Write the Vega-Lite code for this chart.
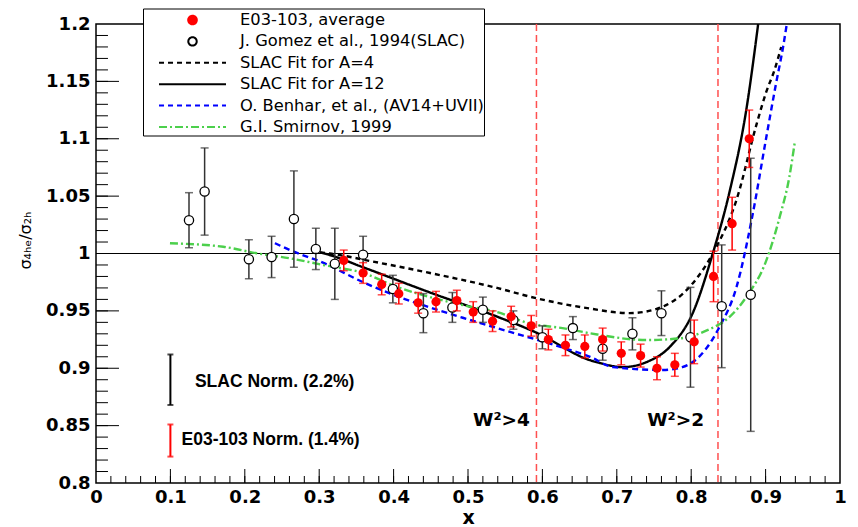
{
  "$schema": "https://vega.github.io/schema/vega-lite/v6.json",
  "width": 744,
  "height": 459,
  "autosize": "none",
  "padding": {"left": 96, "top": 24, "right": 18, "bottom": 44},
  "background": "white",
  "config": {
    "view": {"stroke": "black", "strokeWidth": 1.5},
    "legend": {"symbolStrokeWidth": 2}
  },
  "datasets": {
    "xMinor": [{"x":0.02},{"x":0.04},{"x":0.06},{"x":0.08},{"x":0.1},{"x":0.12},{"x":0.14},{"x":0.16},{"x":0.18},{"x":0.2},{"x":0.22},{"x":0.24},{"x":0.26},{"x":0.28},{"x":0.3},{"x":0.32},{"x":0.34},{"x":0.36},{"x":0.38},{"x":0.4},{"x":0.42},{"x":0.44},{"x":0.46},{"x":0.48},{"x":0.5},{"x":0.52},{"x":0.54},{"x":0.56},{"x":0.58},{"x":0.6},{"x":0.62},{"x":0.64},{"x":0.66},{"x":0.68},{"x":0.7},{"x":0.72},{"x":0.74},{"x":0.76},{"x":0.78},{"x":0.8},{"x":0.82},{"x":0.84},{"x":0.86},{"x":0.88},{"x":0.9},{"x":0.92},{"x":0.94},{"x":0.96},{"x":0.98}],
    "xMajor": [{"x":0.1},{"x":0.2},{"x":0.3},{"x":0.4},{"x":0.5},{"x":0.6},{"x":0.7},{"x":0.8},{"x":0.9}],
    "yMinor": [{"y":0.81},{"y":0.82},{"y":0.83},{"y":0.84},{"y":0.85},{"y":0.86},{"y":0.87},{"y":0.88},{"y":0.89},{"y":0.9},{"y":0.91},{"y":0.92},{"y":0.93},{"y":0.94},{"y":0.95},{"y":0.96},{"y":0.97},{"y":0.98},{"y":0.99},{"y":1.0},{"y":1.01},{"y":1.02},{"y":1.03},{"y":1.04},{"y":1.05},{"y":1.06},{"y":1.07},{"y":1.08},{"y":1.09},{"y":1.1},{"y":1.11},{"y":1.12},{"y":1.13},{"y":1.14},{"y":1.15},{"y":1.16},{"y":1.17},{"y":1.18},{"y":1.19}],
    "yMajor": [{"y":0.85},{"y":0.9},{"y":0.95},{"y":1.0},{"y":1.05},{"y":1.1},{"y":1.15}],
    "e03": [
      {"x": 0.333, "y": 0.994, "err": 0.009},
      {"x": 0.359, "y": 0.983, "err": 0.009},
      {"x": 0.384, "y": 0.973, "err": 0.009},
      {"x": 0.407, "y": 0.965, "err": 0.009},
      {"x": 0.433, "y": 0.957, "err": 0.009},
      {"x": 0.457, "y": 0.958, "err": 0.009},
      {"x": 0.485, "y": 0.959, "err": 0.009},
      {"x": 0.507, "y": 0.949, "err": 0.009},
      {"x": 0.533, "y": 0.941, "err": 0.009},
      {"x": 0.558, "y": 0.945, "err": 0.009},
      {"x": 0.585, "y": 0.937, "err": 0.009},
      {"x": 0.608, "y": 0.925, "err": 0.009},
      {"x": 0.631, "y": 0.920, "err": 0.009},
      {"x": 0.657, "y": 0.919, "err": 0.010},
      {"x": 0.681, "y": 0.925, "err": 0.010},
      {"x": 0.706, "y": 0.913, "err": 0.010},
      {"x": 0.732, "y": 0.911, "err": 0.010},
      {"x": 0.754, "y": 0.900, "err": 0.010},
      {"x": 0.778, "y": 0.903, "err": 0.010},
      {"x": 0.804, "y": 0.923, "err": 0.019},
      {"x": 0.830, "y": 0.980, "err": 0.022},
      {"x": 0.855, "y": 1.026, "err": 0.023},
      {"x": 0.878, "y": 1.100, "err": 0.025}
    ],
    "slac": [
      {"x": 0.125, "y": 1.029, "err": 0.024},
      {"x": 0.146, "y": 1.054, "err": 0.038},
      {"x": 0.2055, "y": 0.995, "err": 0.017},
      {"x": 0.236, "y": 0.997, "err": 0.018},
      {"x": 0.266, "y": 1.030, "err": 0.042},
      {"x": 0.2955, "y": 1.004, "err": 0.018},
      {"x": 0.321, "y": 0.991, "err": 0.031},
      {"x": 0.359, "y": 0.999, "err": 0.016},
      {"x": 0.399, "y": 0.969, "err": 0.012},
      {"x": 0.440, "y": 0.948, "err": 0.017},
      {"x": 0.479, "y": 0.953, "err": 0.013},
      {"x": 0.520, "y": 0.951, "err": 0.011},
      {"x": 0.561, "y": 0.942, "err": 0.008},
      {"x": 0.600, "y": 0.927, "err": 0.010},
      {"x": 0.641, "y": 0.935, "err": 0.010},
      {"x": 0.681, "y": 0.917, "err": 0.010},
      {"x": 0.721, "y": 0.930, "err": 0.014},
      {"x": 0.760, "y": 0.948, "err": 0.0195},
      {"x": 0.799, "y": 0.927, "err": 0.0435},
      {"x": 0.841, "y": 0.954, "err": 0.0535},
      {"x": 0.880, "y": 0.964, "err": 0.119}
    ],
    "curves": [
      {"s": "SLAC Fit for A=4", "x": 0.301, "y": 1.001},
      {"s": "SLAC Fit for A=4", "x": 0.314, "y": 1.000},
      {"s": "SLAC Fit for A=4", "x": 0.372, "y": 0.993},
      {"s": "SLAC Fit for A=4", "x": 0.449, "y": 0.983},
      {"s": "SLAC Fit for A=4", "x": 0.539, "y": 0.970},
      {"s": "SLAC Fit for A=4", "x": 0.592, "y": 0.961},
      {"s": "SLAC Fit for A=4", "x": 0.664, "y": 0.952},
      {"s": "SLAC Fit for A=4", "x": 0.717, "y": 0.948},
      {"s": "SLAC Fit for A=4", "x": 0.757, "y": 0.9525},
      {"s": "SLAC Fit for A=4", "x": 0.798, "y": 0.971},
      {"s": "SLAC Fit for A=4", "x": 0.829, "y": 1.000},
      {"s": "SLAC Fit for A=4", "x": 0.861, "y": 1.047},
      {"s": "SLAC Fit for A=4", "x": 0.888, "y": 1.113},
      {"s": "SLAC Fit for A=4", "x": 0.901, "y": 1.141},
      {"s": "SLAC Fit for A=4", "x": 0.912, "y": 1.160},
      {"s": "SLAC Fit for A=4", "x": 0.921, "y": 1.180},
      {"s": "SLAC Fit for A=12", "x": 0.301, "y": 1.001},
      {"s": "SLAC Fit for A=12", "x": 0.314, "y": 0.9987},
      {"s": "SLAC Fit for A=12", "x": 0.359, "y": 0.988},
      {"s": "SLAC Fit for A=12", "x": 0.449, "y": 0.966},
      {"s": "SLAC Fit for A=12", "x": 0.539, "y": 0.945},
      {"s": "SLAC Fit for A=12", "x": 0.592, "y": 0.931},
      {"s": "SLAC Fit for A=12", "x": 0.664, "y": 0.907},
      {"s": "SLAC Fit for A=12", "x": 0.677, "y": 0.9046},
      {"s": "SLAC Fit for A=12", "x": 0.708, "y": 0.901},
      {"s": "SLAC Fit for A=12", "x": 0.740, "y": 0.9054},
      {"s": "SLAC Fit for A=12", "x": 0.771, "y": 0.9185},
      {"s": "SLAC Fit for A=12", "x": 0.802, "y": 0.948},
      {"s": "SLAC Fit for A=12", "x": 0.829, "y": 1.000},
      {"s": "SLAC Fit for A=12", "x": 0.852, "y": 1.055},
      {"s": "SLAC Fit for A=12", "x": 0.874, "y": 1.125},
      {"s": "SLAC Fit for A=12", "x": 0.890, "y": 1.200},
      {"s": "O. Benhar, et al., (AV14+UVII)", "x": 0.2405, "y": 1.009},
      {"s": "O. Benhar, et al., (AV14+UVII)", "x": 0.2606, "y": 1.003},
      {"s": "O. Benhar, et al., (AV14+UVII)", "x": 0.305, "y": 0.992},
      {"s": "O. Benhar, et al., (AV14+UVII)", "x": 0.359, "y": 0.975},
      {"s": "O. Benhar, et al., (AV14+UVII)", "x": 0.408, "y": 0.962},
      {"s": "O. Benhar, et al., (AV14+UVII)", "x": 0.449, "y": 0.953},
      {"s": "O. Benhar, et al., (AV14+UVII)", "x": 0.493, "y": 0.944},
      {"s": "O. Benhar, et al., (AV14+UVII)", "x": 0.539, "y": 0.935},
      {"s": "O. Benhar, et al., (AV14+UVII)", "x": 0.627, "y": 0.918},
      {"s": "O. Benhar, et al., (AV14+UVII)", "x": 0.664, "y": 0.910},
      {"s": "O. Benhar, et al., (AV14+UVII)", "x": 0.695, "y": 0.901},
      {"s": "O. Benhar, et al., (AV14+UVII)", "x": 0.762, "y": 0.8985},
      {"s": "O. Benhar, et al., (AV14+UVII)", "x": 0.788, "y": 0.901},
      {"s": "O. Benhar, et al., (AV14+UVII)", "x": 0.815, "y": 0.913},
      {"s": "O. Benhar, et al., (AV14+UVII)", "x": 0.838, "y": 0.936},
      {"s": "O. Benhar, et al., (AV14+UVII)", "x": 0.861, "y": 0.971},
      {"s": "O. Benhar, et al., (AV14+UVII)", "x": 0.882, "y": 1.032},
      {"s": "O. Benhar, et al., (AV14+UVII)", "x": 0.901, "y": 1.1015},
      {"s": "O. Benhar, et al., (AV14+UVII)", "x": 0.914, "y": 1.148},
      {"s": "O. Benhar, et al., (AV14+UVII)", "x": 0.9235, "y": 1.180},
      {"s": "O. Benhar, et al., (AV14+UVII)", "x": 0.9285, "y": 1.200},
      {"s": "G.I. Smirnov, 1999", "x": 0.0994, "y": 1.0089},
      {"s": "G.I. Smirnov, 1999", "x": 0.171, "y": 1.0059},
      {"s": "G.I. Smirnov, 1999", "x": 0.216, "y": 1.0002},
      {"s": "G.I. Smirnov, 1999", "x": 0.2606, "y": 0.9958},
      {"s": "G.I. Smirnov, 1999", "x": 0.305, "y": 0.990},
      {"s": "G.I. Smirnov, 1999", "x": 0.359, "y": 0.983},
      {"s": "G.I. Smirnov, 1999", "x": 0.404, "y": 0.971},
      {"s": "G.I. Smirnov, 1999", "x": 0.449, "y": 0.962},
      {"s": "G.I. Smirnov, 1999", "x": 0.493, "y": 0.955},
      {"s": "G.I. Smirnov, 1999", "x": 0.539, "y": 0.949},
      {"s": "G.I. Smirnov, 1999", "x": 0.583, "y": 0.939},
      {"s": "G.I. Smirnov, 1999", "x": 0.627, "y": 0.935},
      {"s": "G.I. Smirnov, 1999", "x": 0.664, "y": 0.9305},
      {"s": "G.I. Smirnov, 1999", "x": 0.740, "y": 0.9246},
      {"s": "G.I. Smirnov, 1999", "x": 0.784, "y": 0.926},
      {"s": "G.I. Smirnov, 1999", "x": 0.821, "y": 0.933},
      {"s": "G.I. Smirnov, 1999", "x": 0.852, "y": 0.945},
      {"s": "G.I. Smirnov, 1999", "x": 0.874, "y": 0.962},
      {"s": "G.I. Smirnov, 1999", "x": 0.901, "y": 0.994},
      {"s": "G.I. Smirnov, 1999", "x": 0.919, "y": 1.032},
      {"s": "G.I. Smirnov, 1999", "x": 0.932, "y": 1.067},
      {"s": "G.I. Smirnov, 1999", "x": 0.939, "y": 1.096}
    ],
    "walls": [{"x": 0.592}, {"x": 0.836}],
    "unity": [{"y": 1.0}],
    "normSlac": [{"x": 0.1, "y": 0.890, "err": 0.022}],
    "normE03": [{"x": 0.1, "y": 0.837, "err": 0.014}],
    "normText": [
      {"x": 0.133, "y": 0.888, "t": "SLAC Norm. (2.2%)"},
      {"x": 0.115, "y": 0.8375, "t": "E03-103 Norm. (1.4%)"}
    ],
    "wText": [
      {"x": 0.545, "y": 0.855, "t": "W²>4"},
      {"x": 0.779, "y": 0.855, "t": "W²>2"}
    ]
  },
  "layer": [
    {
      "data": {"name": "xMinor"},
      "mark": {"type": "rule", "color": "black", "strokeWidth": 1},
      "encoding": {
        "x": {"field": "x", "type": "quantitative", "scale": {"domain": [0, 1], "nice": false, "zero": false},
          "axis": {"title": "x", "values": [0,0.1,0.2,0.3,0.4,0.5,0.6,0.7,0.8,0.9,1], "labelExpr": "'' + datum.value", "labelOverlap": false, "labelFlush": false, "labelBound": false, "ticks": false, "domain": false, "grid": false, "labelFont": "DejaVu Sans", "labelFontWeight": "bold", "labelFontSize": 18, "labelColor": "black", "labelPadding": 5, "titleFont": "DejaVu Sans", "titleFontWeight": "bold", "titleFontSize": 19, "titleColor": "black", "titlePadding": 2}},
        "y": {"datum": 0.8, "type": "quantitative", "scale": {"domain": [0.8, 1.2], "nice": false, "zero": false},
          "axis": {"title": "σ₄ₕₑ/σ₂ₕ", "values": [0.8,0.85,0.9,0.95,1,1.05,1.1,1.15,1.2], "labelExpr": "'' + datum.value", "labelOverlap": false, "labelFlush": false, "labelBound": false, "ticks": false, "domain": false, "grid": false, "labelFont": "DejaVu Sans", "labelFontWeight": "bold", "labelFontSize": 18, "labelColor": "black", "labelPadding": 6, "titleFont": "DejaVu Sans", "titleFontWeight": "normal", "titleFontSize": 16, "titleColor": "black", "titleX": -71, "titleY": 216, "titleBaseline": "middle", "titleAngle": -90}},
        "y2": {"datum": 0.8061}
      }
    },
    {
      "data": {"name": "xMajor"},
      "mark": {"type": "rule", "color": "black", "strokeWidth": 1},
      "encoding": {
        "x": {"field": "x", "type": "quantitative", "scale": {"domain": [0, 1], "nice": false, "zero": false},
          "axis": {"title": "x", "values": [0,0.1,0.2,0.3,0.4,0.5,0.6,0.7,0.8,0.9,1], "labelExpr": "'' + datum.value", "labelOverlap": false, "labelFlush": false, "labelBound": false, "ticks": false, "domain": false, "grid": false, "labelFont": "DejaVu Sans", "labelFontWeight": "bold", "labelFontSize": 18, "labelColor": "black", "labelPadding": 5, "titleFont": "DejaVu Sans", "titleFontWeight": "bold", "titleFontSize": 19, "titleColor": "black", "titlePadding": 2}},
        "y": {"datum": 0.8, "type": "quantitative", "scale": {"domain": [0.8, 1.2], "nice": false, "zero": false},
          "axis": {"title": "σ₄ₕₑ/σ₂ₕ", "values": [0.8,0.85,0.9,0.95,1,1.05,1.1,1.15,1.2], "labelExpr": "'' + datum.value", "labelOverlap": false, "labelFlush": false, "labelBound": false, "ticks": false, "domain": false, "grid": false, "labelFont": "DejaVu Sans", "labelFontWeight": "bold", "labelFontSize": 18, "labelColor": "black", "labelPadding": 6, "titleFont": "DejaVu Sans", "titleFontWeight": "normal", "titleFontSize": 16, "titleColor": "black", "titleX": -71, "titleY": 216, "titleBaseline": "middle", "titleAngle": -90}},
        "y2": {"datum": 0.8122}
      }
    },
    {
      "data": {"name": "yMinor"},
      "mark": {"type": "rule", "color": "black", "strokeWidth": 1},
      "encoding": {
        "y": {"field": "y", "type": "quantitative", "scale": {"domain": [0.8, 1.2], "nice": false, "zero": false},
          "axis": {"title": "σ₄ₕₑ/σ₂ₕ", "values": [0.8,0.85,0.9,0.95,1,1.05,1.1,1.15,1.2], "labelExpr": "'' + datum.value", "labelOverlap": false, "labelFlush": false, "labelBound": false, "ticks": false, "domain": false, "grid": false, "labelFont": "DejaVu Sans", "labelFontWeight": "bold", "labelFontSize": 18, "labelColor": "black", "labelPadding": 6, "titleFont": "DejaVu Sans", "titleFontWeight": "normal", "titleFontSize": 16, "titleColor": "black", "titleX": -71, "titleY": 216, "titleBaseline": "middle", "titleAngle": -90}},
        "x": {"datum": 0, "type": "quantitative", "scale": {"domain": [0, 1], "nice": false, "zero": false},
          "axis": {"title": "x", "values": [0,0.1,0.2,0.3,0.4,0.5,0.6,0.7,0.8,0.9,1], "labelExpr": "'' + datum.value", "labelOverlap": false, "labelFlush": false, "labelBound": false, "ticks": false, "domain": false, "grid": false, "labelFont": "DejaVu Sans", "labelFontWeight": "bold", "labelFontSize": 18, "labelColor": "black", "labelPadding": 5, "titleFont": "DejaVu Sans", "titleFontWeight": "bold", "titleFontSize": 19, "titleColor": "black", "titlePadding": 2}},
        "x2": {"datum": 0.0161}
      }
    },
    {
      "data": {"name": "yMajor"},
      "mark": {"type": "rule", "color": "black", "strokeWidth": 1},
      "encoding": {
        "y": {"field": "y", "type": "quantitative", "scale": {"domain": [0.8, 1.2], "nice": false, "zero": false},
          "axis": {"title": "σ₄ₕₑ/σ₂ₕ", "values": [0.8,0.85,0.9,0.95,1,1.05,1.1,1.15,1.2], "labelExpr": "'' + datum.value", "labelOverlap": false, "labelFlush": false, "labelBound": false, "ticks": false, "domain": false, "grid": false, "labelFont": "DejaVu Sans", "labelFontWeight": "bold", "labelFontSize": 18, "labelColor": "black", "labelPadding": 6, "titleFont": "DejaVu Sans", "titleFontWeight": "normal", "titleFontSize": 16, "titleColor": "black", "titleX": -71, "titleY": 216, "titleBaseline": "middle", "titleAngle": -90}},
        "x": {"datum": 0, "type": "quantitative", "scale": {"domain": [0, 1], "nice": false, "zero": false},
          "axis": {"title": "x", "values": [0,0.1,0.2,0.3,0.4,0.5,0.6,0.7,0.8,0.9,1], "labelExpr": "'' + datum.value", "labelOverlap": false, "labelFlush": false, "labelBound": false, "ticks": false, "domain": false, "grid": false, "labelFont": "DejaVu Sans", "labelFontWeight": "bold", "labelFontSize": 18, "labelColor": "black", "labelPadding": 5, "titleFont": "DejaVu Sans", "titleFontWeight": "bold", "titleFontSize": 19, "titleColor": "black", "titlePadding": 2}},
        "x2": {"datum": 0.0309}
      }
    },
    {
      "data": {"name": "walls"},
      "mark": {"type": "rule", "color": "#ff5050", "strokeWidth": 1.5, "strokeDash": [7, 4]},
      "encoding": {
        "x": {"field": "x", "type": "quantitative", "scale": {"domain": [0, 1], "nice": false, "zero": false},
          "axis": {"title": "x", "values": [0,0.1,0.2,0.3,0.4,0.5,0.6,0.7,0.8,0.9,1], "labelExpr": "'' + datum.value", "labelOverlap": false, "labelFlush": false, "labelBound": false, "ticks": false, "domain": false, "grid": false, "labelFont": "DejaVu Sans", "labelFontWeight": "bold", "labelFontSize": 18, "labelColor": "black", "labelPadding": 5, "titleFont": "DejaVu Sans", "titleFontWeight": "bold", "titleFontSize": 19, "titleColor": "black", "titlePadding": 2}}
      }
    },
    {
      "data": {"name": "unity"},
      "mark": {"type": "rule", "color": "black", "strokeWidth": 1.2},
      "encoding": {
        "y": {"field": "y", "type": "quantitative", "scale": {"domain": [0.8, 1.2], "nice": false, "zero": false},
          "axis": {"title": "σ₄ₕₑ/σ₂ₕ", "values": [0.8,0.85,0.9,0.95,1,1.05,1.1,1.15,1.2], "labelExpr": "'' + datum.value", "labelOverlap": false, "labelFlush": false, "labelBound": false, "ticks": false, "domain": false, "grid": false, "labelFont": "DejaVu Sans", "labelFontWeight": "bold", "labelFontSize": 18, "labelColor": "black", "labelPadding": 6, "titleFont": "DejaVu Sans", "titleFontWeight": "normal", "titleFontSize": 16, "titleColor": "black", "titleX": -71, "titleY": 216, "titleBaseline": "middle", "titleAngle": -90}}
      }
    },
    {
      "encoding": {
        "x": {"field": "x", "type": "quantitative", "scale": {"domain": [0, 1], "nice": false, "zero": false},
          "axis": {"title": "x", "values": [0,0.1,0.2,0.3,0.4,0.5,0.6,0.7,0.8,0.9,1], "labelExpr": "'' + datum.value", "labelOverlap": false, "labelFlush": false, "labelBound": false, "ticks": false, "domain": false, "grid": false, "labelFont": "DejaVu Sans", "labelFontWeight": "bold", "labelFontSize": 18, "labelColor": "black", "labelPadding": 5, "titleFont": "DejaVu Sans", "titleFontWeight": "bold", "titleFontSize": 19, "titleColor": "black", "titlePadding": 2}},
        "y": {"field": "y", "type": "quantitative", "scale": {"domain": [0.8, 1.2], "nice": false, "zero": false},
          "axis": {"title": "σ₄ₕₑ/σ₂ₕ", "values": [0.8,0.85,0.9,0.95,1,1.05,1.1,1.15,1.2], "labelExpr": "'' + datum.value", "labelOverlap": false, "labelFlush": false, "labelBound": false, "ticks": false, "domain": false, "grid": false, "labelFont": "DejaVu Sans", "labelFontWeight": "bold", "labelFontSize": 18, "labelColor": "black", "labelPadding": 6, "titleFont": "DejaVu Sans", "titleFontWeight": "normal", "titleFontSize": 16, "titleColor": "black", "titleX": -71, "titleY": 216, "titleBaseline": "middle", "titleAngle": -90}}
      },
      "layer": [
        {
          "data": {"name": "curves"},
          "mark": {"type": "line", "strokeWidth": 2.4, "interpolate": "monotone", "clip": true},
          "encoding": {
            "color": {
              "field": "s", "type": "nominal",
              "scale": {
                "domain": ["E03-103, average", "J. Gomez et al., 1994(SLAC)", "SLAC Fit for A=4", "SLAC Fit for A=12", "O. Benhar, et al., (AV14+UVII)", "G.I. Smirnov, 1999"],
                "range": ["#ff0000", "#000000", "#000000", "#000000", "#0000ff", "#4cd04c"]
              },
              "legend": {
                "orient": "none", "legendX": 47, "legendY": -15.5,
                "title": null, "padding": 0, "rowPadding": 1.4,
                "symbolSize": 441, "symbolStrokeWidth": 2,
                "labelOffset": 74, "labelFont": "DejaVu Sans", "labelFontSize": 16.3, "labelColor": "black", "labelLimit": 500,
                "labelExpr": "datum.label + '\u00a0\u00a0\u00a0'",
                "strokeColor": "black", "fillColor": "white",
                "encode": {
                  "symbols": {
                    "update": {
                      "shape": {"signal": "datum.index == 0 ? 'M3.21,0A0.41,0.41 0 1,0 4.03,0A0.41,0.41 0 1,0 3.21,0Z' : datum.index == 1 ? 'M3.22,0A0.4,0.4 0 1,0 4.02,0A0.4,0.4 0 1,0 3.22,0A0.4,0.4 0 1,1 4.02,0A0.4,0.4 0 1,1 3.22,0' : 'M0.43,0H6.81'"},
                      "fill": {"signal": "datum.index == 0 ? '#ff0000' : 'transparent'"},
                      "stroke": {"signal": "['#ff0000','#000000','#000000','#000000','#0000ff','#4cd04c'][datum.index]"},
                      "strokeDash": {"signal": "datum.index == 2 ? [5,4] : datum.index == 4 ? [5,4] : datum.index == 5 ? [8,3,2,3] : [1,0]"},
                      "opacity": {"value": 1}
                    }
                  }
                }
              }
            },
            "strokeDash": {
              "field": "s", "type": "nominal",
              "scale": {
                "domain": ["SLAC Fit for A=4", "SLAC Fit for A=12", "O. Benhar, et al., (AV14+UVII)", "G.I. Smirnov, 1999"],
                "range": [[5, 4], [1, 0], [6, 4], [8, 3, 2, 3]]
              },
              "legend": null
            }
          }
        },
        {
          "data": {"name": "slac"},
          "mark": {"type": "errorbar", "color": "#333333", "thickness": 1.5, "ticks": {"size": 8}},
          "encoding": {"yError": {"field": "err"}}
        },
        {
          "data": {"name": "slac"},
          "mark": {"type": "point", "shape": "circle", "filled": false, "fill": "white", "size": 85, "strokeWidth": 1.3, "opacity": 1},
          "encoding": {
            "color": {
              "datum": "J. Gomez et al., 1994(SLAC)", "type": "nominal",
              "scale": {
                "domain": ["E03-103, average", "J. Gomez et al., 1994(SLAC)", "SLAC Fit for A=4", "SLAC Fit for A=12", "O. Benhar, et al., (AV14+UVII)", "G.I. Smirnov, 1999"],
                "range": ["#ff0000", "#000000", "#000000", "#000000", "#0000ff", "#4cd04c"]
              },
              "legend": null
            }
          }
        },
        {
          "data": {"name": "e03"},
          "mark": {"type": "errorbar", "color": "#ff0000", "thickness": 1.5, "ticks": {"size": 8}},
          "encoding": {"yError": {"field": "err"}}
        },
        {
          "data": {"name": "e03"},
          "mark": {"type": "point", "shape": "circle", "filled": true, "size": 85, "opacity": 1},
          "encoding": {
            "color": {
              "datum": "E03-103, average", "type": "nominal",
              "scale": {
                "domain": ["E03-103, average", "J. Gomez et al., 1994(SLAC)", "SLAC Fit for A=4", "SLAC Fit for A=12", "O. Benhar, et al., (AV14+UVII)", "G.I. Smirnov, 1999"],
                "range": ["#ff0000", "#000000", "#000000", "#000000", "#0000ff", "#4cd04c"]
              },
              "legend": null
            }
          }
        },
        {
          "data": {"name": "normSlac"},
          "mark": {"type": "errorbar", "color": "#000000", "thickness": 2, "ticks": {"size": 6}},
          "encoding": {"yError": {"field": "err"}}
        },
        {
          "data": {"name": "normE03"},
          "mark": {"type": "errorbar", "color": "#ff0000", "thickness": 2, "ticks": {"size": 6}},
          "encoding": {"yError": {"field": "err"}}
        },
        {
          "data": {"name": "normText"},
          "mark": {"type": "text", "align": "left", "baseline": "middle", "font": "Liberation Sans", "fontWeight": "bold", "fontSize": 17.5, "color": "black"},
          "encoding": {"text": {"field": "t"}}
        },
        {
          "data": {"name": "wText"},
          "mark": {"type": "text", "align": "center", "baseline": "middle", "font": "DejaVu Sans", "fontWeight": "bold", "fontSize": 18.5, "color": "black"},
          "encoding": {"text": {"field": "t"}}
        }
      ]
    }
  ]
}
